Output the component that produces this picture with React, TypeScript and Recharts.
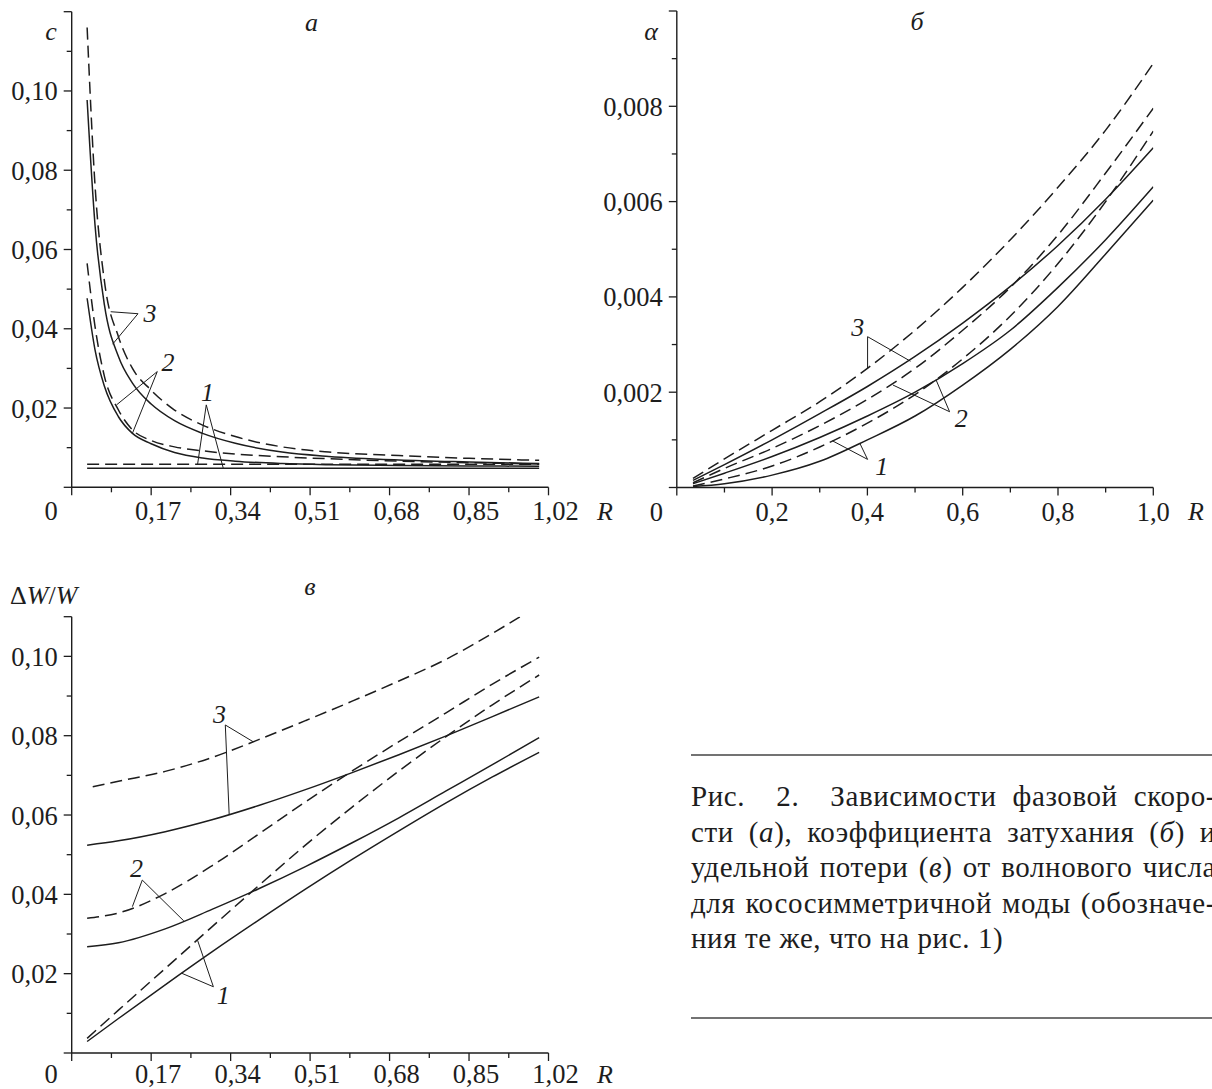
import React from 'react';
import { LineChart, Line, XAxis, YAxis, ReferenceLine, ReferenceDot } from 'recharts';

const FONT = '"Liberation Serif", "Times New Roman", serif';
const INK = '#1d1d1d';
const DASH = '12 6';

// --- panel а: phase velocity c vs R
const rA = [0.033, 0.05, 0.07, 0.1, 0.13, 0.17, 0.22, 0.28, 0.35, 0.45, 0.55, 0.7, 0.85, 1.0];
const cSolid1 = [0.0048, 0.0048, 0.0048, 0.0048, 0.0048, 0.0048, 0.0048, 0.0048, 0.0048, 0.0048, 0.0048, 0.0048, 0.0048, 0.0048];
const cDashed1 = [0.0058, 0.0058, 0.0058, 0.0058, 0.0058, 0.0058, 0.0058, 0.0058, 0.0058, 0.0058, 0.0058, 0.0058, 0.0058, 0.0058];
const cSolid2 = [0.0477, 0.0346, 0.0255, 0.0178, 0.0136, 0.011, 0.0088, 0.0074, 0.0066, 0.006, 0.0057, 0.0055, 0.0054, 0.0053];
const cDashed2 = [0.0565, 0.0405, 0.028, 0.0195, 0.0145, 0.0118, 0.0102, 0.0092, 0.0084, 0.0077, 0.0072, 0.0066, 0.0062, 0.0059];
const cSolid3 = [0.0977, 0.066, 0.046, 0.033, 0.0263, 0.021, 0.0168, 0.0136, 0.0111, 0.0089, 0.0078, 0.0069, 0.0064, 0.006];
const cDashed3 = [0.116, 0.076, 0.052, 0.038, 0.03, 0.0245, 0.0195, 0.0157, 0.0128, 0.0102, 0.0089, 0.008, 0.0073, 0.0068];

const xTicksA = [0, 0.085, 0.17, 0.255, 0.34, 0.425, 0.51, 0.595, 0.68, 0.765, 0.85, 0.935, 1.02];
const xLabelsA = ['0', null, '0,17', null, '0,34', null, '0,51', null, '0,68', null, '0,85', null, '1,02'];
const yTicksA = [0, 0.01, 0.02, 0.03, 0.04, 0.05, 0.06, 0.07, 0.08, 0.09, 0.1, 0.11, 0.12];
const yLabelsA = ['', null, '0,02', null, '0,04', null, '0,06', null, '0,08', null, '0,10', null, ''];

// --- panel б: attenuation alpha vs R
const rB = [0.034, 0.1, 0.2, 0.3, 0.4, 0.5, 0.6, 0.7, 0.8, 0.9, 1.0];
const aSolid1 = [0.00002, 0.00008, 0.00026, 0.00055, 0.001, 0.0015, 0.00215, 0.0029, 0.0038, 0.0049, 0.00603];
const aDashed1 = [0.00003, 0.00018, 0.00045, 0.00085, 0.00135, 0.00195, 0.0027, 0.0036, 0.0047, 0.006, 0.00748];
const aSolid2 = [0.00008, 0.0003, 0.00065, 0.00105, 0.0015, 0.002, 0.0026, 0.0033, 0.0042, 0.0052, 0.00631];
const aDashed2 = [0.0001, 0.0004, 0.00082, 0.0013, 0.00185, 0.0025, 0.0033, 0.0042, 0.0053, 0.0066, 0.00796];
const aSolid3 = [0.00015, 0.00048, 0.001, 0.00155, 0.00212, 0.00275, 0.00345, 0.00422, 0.00508, 0.00605, 0.00713];
const aDashed3 = [0.00019, 0.0006, 0.0012, 0.0018, 0.0025, 0.0033, 0.0042, 0.0052, 0.0063, 0.0075, 0.0089];

const xTicksB = [0, 0.1, 0.2, 0.3, 0.4, 0.5, 0.6, 0.7, 0.8, 0.9, 1.0];
const xLabelsB = ['0', null, '0,2', null, '0,4', null, '0,6', null, '0,8', null, '1,0'];
const yTicksB = [0, 0.001, 0.002, 0.003, 0.004, 0.005, 0.006, 0.007, 0.008, 0.009, 0.01];
const yLabelsB = ['', null, '0,002', null, '0,004', null, '0,006', null, '0,008', null, ''];

// --- panel в: specific loss dW/W vs R
const rC = [0.033, 0.1, 0.2, 0.3, 0.4, 0.5, 0.6, 0.7, 0.8, 0.9, 1.0];
const rC3 = [0.045, 0.1, 0.2, 0.3, 0.4, 0.5, 0.6, 0.7, 0.8, 0.9, 0.99];
const wSolid1 = [0.0029, 0.0087, 0.0172, 0.0255, 0.0335, 0.0413, 0.0488, 0.056, 0.063, 0.0696, 0.0758];
const wDashed1 = [0.0037, 0.0108, 0.0213, 0.0318, 0.0422, 0.0524, 0.062, 0.0711, 0.0797, 0.0878, 0.0953];
const wSolid2 = [0.0268, 0.0278, 0.0313, 0.0362, 0.0414, 0.047, 0.053, 0.0593, 0.066, 0.0727, 0.0795];
const wDashed2 = [0.034, 0.0353, 0.0402, 0.0472, 0.0552, 0.0633, 0.0711, 0.0785, 0.0857, 0.093, 0.0998];
const wSolid3 = [0.0524, 0.0535, 0.0558, 0.0588, 0.0624, 0.0664, 0.0707, 0.0752, 0.0799, 0.0848, 0.0898];
const wDashed3 = [0.0671, 0.0685, 0.071, 0.0745, 0.079, 0.0838, 0.0887, 0.0938, 0.0992, 0.1058, 0.1122];

const yTicksC = [0, 0.01, 0.02, 0.03, 0.04, 0.05, 0.06, 0.07, 0.08, 0.09, 0.1, 0.11];
const yLabelsC = ['', null, '0,02', null, '0,04', null, '0,06', null, '0,08', null, '0,10', ''];

// leader annotations (data units): label position, hub, line ends
type Leader = { text: string; at: number[]; hub: number[]; ends: number[][] };
const leadersA: Leader[] = [
  { text: '3', at: [0.1675, 0.044], hub: [0.1418, 0.0438], ends: [[0.0834, 0.0443], [0.0875, 0.0361]] },
  { text: '2', at: [0.206, 0.0317], hub: [0.1831, 0.0292], ends: [[0.096, 0.0208], [0.1298, 0.0136]] },
  { text: '1', at: [0.2905, 0.0241], hub: [0.2879, 0.0208], ends: [[0.2693, 0.0058], [0.3243, 0.0048]] },
];
const leadersB: Leader[] = [
  { text: '3', at: [0.38, 0.003375], hub: [0.4004, 0.003165], ends: [[0.4004, 0.0025], [0.4905, 0.00265]] },
  { text: '2', at: [0.597, 0.00145], hub: [0.5725, 0.00159], ends: [[0.4537, 0.00215], [0.544, 0.00226]] },
  { text: '1', at: [0.43, 0.00045], hub: [0.4004, 0.00059], ends: [[0.3266, 0.00098], [0.384, 0.00093]] },
];
const leadersC: Leader[] = [
  { text: '3', at: [0.316, 0.0854], hub: [0.3286, 0.0827], ends: [[0.3878, 0.0785], [0.3369, 0.0601]] },
  { text: '2', at: [0.1384, 0.0466], hub: [0.151, 0.0436], ends: [[0.1298, 0.0369], [0.2398, 0.0333]] },
  { text: '1', at: [0.3243, 0.0146], hub: [0.3031, 0.0167], ends: [[0.2693, 0.0284], [0.2355, 0.0201]] },
];

const pts = (xs: number[], ys: number[]) => xs.map((x, i) => ({ x, y: ys[i] }));

type Series = { data: { x: number; y: number }[]; dashed: boolean };

const seriesA: Series[] = [
  { data: pts(rA, cSolid1), dashed: false },
  { data: pts(rA, cDashed1), dashed: true },
  { data: pts(rA, cSolid2), dashed: false },
  { data: pts(rA, cDashed2), dashed: true },
  { data: pts(rA, cSolid3), dashed: false },
  { data: pts(rA, cDashed3), dashed: true },
];
const seriesB: Series[] = [
  { data: pts(rB, aSolid1), dashed: false },
  { data: pts(rB, aDashed1), dashed: true },
  { data: pts(rB, aSolid2), dashed: false },
  { data: pts(rB, aDashed2), dashed: true },
  { data: pts(rB, aSolid3), dashed: false },
  { data: pts(rB, aDashed3), dashed: true },
];
const seriesC: Series[] = [
  { data: pts(rC, wSolid1), dashed: false },
  { data: pts(rC, wDashed1), dashed: true },
  { data: pts(rC, wSolid2), dashed: false },
  { data: pts(rC, wDashed2), dashed: true },
  { data: pts(rC, wSolid3), dashed: false },
  { data: pts(rC3, wDashed3), dashed: true },
];

const TICK_FS = 26.5;

function XTick(props: any) {
  const { x, y, index, labels, shift, dy } = props;
  const lab = labels[index];
  const major = lab !== null;
  return (
    <g>
      <line x1={x} y1={y} x2={x} y2={y + (major ? 8 : 5)} stroke={INK} strokeWidth={1.3} />
      {lab ? (
        <text x={index === 0 ? x - 20.5 : x + shift} y={y + dy} textAnchor="middle"
          fontFamily={FONT} fontSize={TICK_FS} fill={INK}>{lab}</text>
      ) : null}
    </g>
  );
}

function YTick(props: any) {
  const { x, y, index, labels } = props;
  const lab = labels[index];
  const major = lab !== null;
  return (
    <g>
      <line x1={x} y1={y} x2={x - (major ? 8 : 5)} y2={y} stroke={INK} strokeWidth={1.3} />
      {lab ? (
        <text x={x - 14} y={y + 9.5} textAnchor="end" fontFamily={FONT} fontSize={TICK_FS} fill={INK}>{lab}</text>
      ) : null}
    </g>
  );
}

const AX_W = 40; // y-axis band width
const AX_H = 30; // x-axis band height

function Panel(p: {
  left: number; top: number; width: number; height: number;
  plot: { top: number; right: number; bottom: number; left: number };
  xDomain: number[]; yDomain: number[];
  xTicks: number[]; xLabels: (string | null)[]; yTicks: number[]; yLabels: (string | null)[];
  shift: number; labelDy: number; series: Series[]; leaders: Leader[];
}) {
  const margin = { top: p.plot.top, right: p.plot.right, bottom: p.plot.bottom - AX_H, left: p.plot.left - AX_W };
  return (
    <div style={{ position: 'absolute', left: p.left, top: p.top }}>
      <LineChart width={p.width} height={p.height} margin={margin}>
        <XAxis type="number" dataKey="x" domain={p.xDomain} ticks={p.xTicks} interval={0}
          height={AX_H} tickSize={0} tickMargin={0} tickLine={false} allowDataOverflow
          axisLine={{ stroke: INK, strokeWidth: 1.4 }}
          tick={(tp: any) => <XTick {...tp} labels={p.xLabels} shift={p.shift} dy={p.labelDy} />} />
        <YAxis type="number" dataKey="y" domain={p.yDomain} ticks={p.yTicks} interval={0}
          width={AX_W} tickSize={0} tickMargin={0} tickLine={false} allowDataOverflow
          axisLine={{ stroke: INK, strokeWidth: 1.4 }}
          tick={(tp: any) => <YTick {...tp} labels={p.yLabels} />} />
        {p.series.map((s, i) => (
          <Line key={i} data={s.data} dataKey="y" type="monotone" stroke={INK} strokeWidth={1.5}
            strokeDasharray={s.dashed ? DASH : undefined} dot={false} activeDot={false}
            isAnimationActive={false} />
        ))}
        {p.leaders.flatMap((l, i) => [
          ...l.ends.map((e, j) => (
            <ReferenceLine key={`s${i}${j}`} segment={[{ x: l.hub[0], y: l.hub[1] }, { x: e[0], y: e[1] }]}
              stroke={INK} strokeWidth={1} />
          )),
          <ReferenceDot key={`t${i}`} x={l.at[0]} y={l.at[1]} r={0}
            shape={(sp: any) => (
              <text x={sp.cx} y={sp.cy + 9} textAnchor="middle" fontFamily={FONT} fontStyle="italic"
                fontSize={26} fill={INK}>{l.text}</text>
            )} />,
        ])}
      </LineChart>
    </div>
  );
}

const captionLines = [
  <>Рис.{'\u2002'} 2.{'\u2002'} Зависимости фазовой скоро-</>,
  <>сти (<i>а</i>), коэффициента затухания (<i>б</i>) и</>,
  <>удельной потери (<i>в</i>) от волнового числа</>,
  <>для кососимметричной моды (обозначе-</>,
];

export default function App() {
  const t = { fontFamily: FONT, fontSize: 26, fill: INK };
  return (
    <div style={{ position: 'relative', width: 1212, height: 1089, overflow: 'hidden', background: '#fff' }}>
      <style>{'body{margin:0}'}</style>
      <Panel left={0} top={0} width={612} height={540}
        plot={{ top: 11.7, right: 63.5, bottom: 52.7, left: 71.7 }}
        xDomain={[0, 1.02]} yDomain={[0, 0.12]} xTicks={xTicksA} xLabels={xLabelsA}
        yTicks={yTicksA} yLabels={yLabelsA} shift={7} labelDy={33} series={seriesA} leaders={leadersA} />
      <Panel left={600} top={0} width={612} height={540}
        plot={{ top: 11, right: 58.7, bottom: 52.5, left: 76.8 }}
        xDomain={[0, 1]} yDomain={[0, 0.01]} xTicks={xTicksB} xLabels={xLabelsB}
        yTicks={yTicksB} yLabels={yLabelsB} shift={0} labelDy={33} series={seriesB} leaders={leadersB} />
      <Panel left={0} top={560} width={612} height={529}
        plot={{ top: 56.7, right: 63.5, bottom: 36, left: 71.7 }}
        xDomain={[0, 1.02]} yDomain={[0, 0.11]} xTicks={xTicksA} xLabels={xLabelsA}
        yTicks={yTicksC} yLabels={yLabelsC} shift={7} labelDy={30} series={seriesC} leaders={leadersC} />

      <svg width={1212} height={1089} style={{ position: 'absolute', left: 0, top: 0, pointerEvents: 'none' }}>
        <text x={51} y={40} textAnchor="middle" fontStyle="italic" {...t}>c</text>
        <text x={311.5} y={30.5} textAnchor="middle" fontStyle="italic" {...t}>а</text>
        <text x={605} y={520} textAnchor="middle" fontStyle="italic" {...t}>R</text>
        <text x={651} y={40} textAnchor="middle" fontStyle="italic" {...t}>α</text>
        <text x={917} y={30} textAnchor="middle" fontStyle="italic" {...t}>б</text>
        <text x={1196} y={520} textAnchor="middle" fontStyle="italic" {...t}>R</text>
        <text x={310} y={595} textAnchor="middle" fontStyle="italic" {...t}>в</text>
        <text x={10} y={604} {...t}>
          Δ<tspan fontStyle="italic">W</tspan>/<tspan fontStyle="italic">W</tspan>
        </text>
        <text x={605} y={1083} textAnchor="middle" fontStyle="italic" {...t}>R</text>
        <line x1={691} y1={755} x2={1212} y2={755} stroke="#444" strokeWidth={1.4} />
        <line x1={691} y1={1018} x2={1212} y2={1018} stroke="#444" strokeWidth={1.4} />
      </svg>

      <div style={{ position: 'absolute', left: 691, top: 779, fontFamily: FONT, fontSize: 29,
        lineHeight: '35.5px', letterSpacing: '0.6px', color: INK }}>
        {captionLines.map((c, i) => (
          <div key={i} style={{ width: 525, textAlign: 'justify', textAlignLast: 'justify' }}>{c}</div>
        ))}
        <div>ния те же, что на рис. 1)</div>
      </div>
    </div>
  );
}
